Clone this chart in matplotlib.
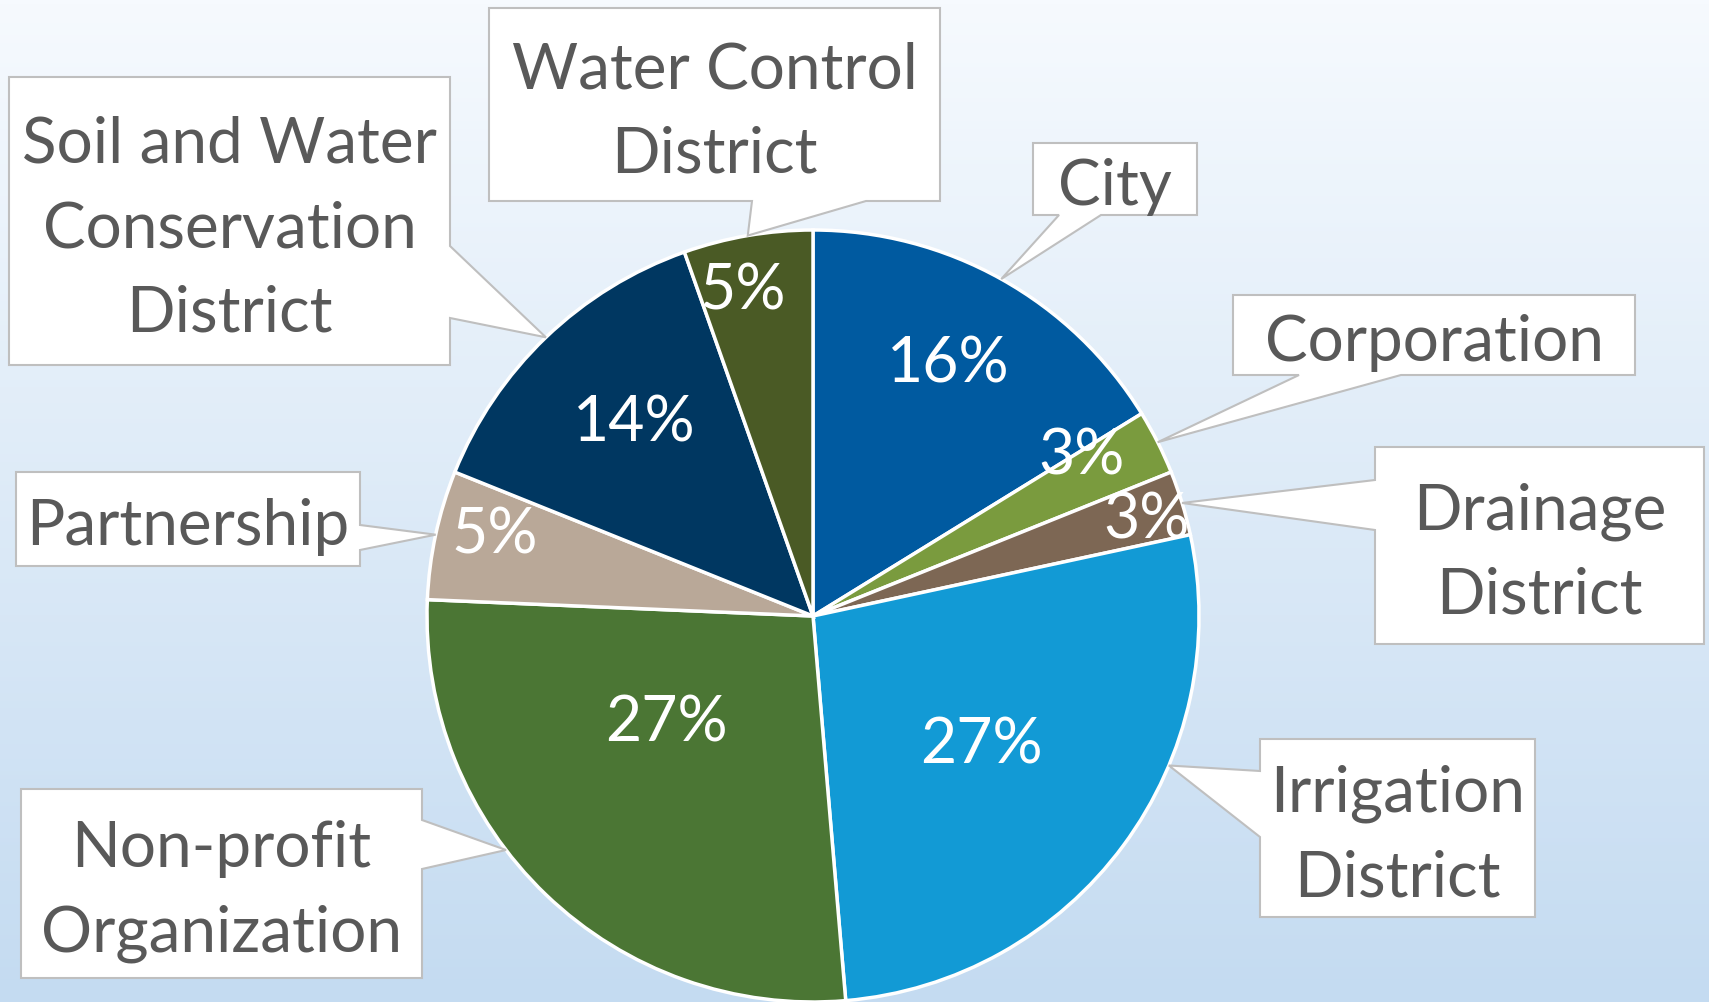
import numpy as np
import matplotlib
matplotlib.use("Agg")
import matplotlib.pyplot as plt
from matplotlib.patches import Polygon

# data: number of entities by type (shares, 37 total)
types = ["City", "Corporation", "Drainage\nDistrict", "Irrigation\nDistrict",
         "Non-profit\nOrganization", "Partnership",
         "Soil and Water\nConservation\nDistrict", "Water Control\nDistrict"]
counts = [6, 1, 1, 10, 10, 2, 5, 2]
colors = ["#005AA0", "#7A9B3E", "#7D6754", "#129AD5",
          "#4B7634", "#B9A898", "#003761", "#4A5A25"]

W, H = 1709, 1002
plt.rcParams['font.family'] = ['Lato', 'DejaVu Sans']

fig = plt.figure(figsize=(W / 100, H / 100), dpi=100)
ax = fig.add_axes([0, 0, 1, 1])

# background gradient
grad = np.linspace(0, 1, 256).reshape(-1, 1)
top = np.array([246, 250, 254]) / 255
bot = np.array([196, 219, 241]) / 255
img = top + (bot - top) * grad[:, :, None]
ax.imshow(img, extent=(0, W, 0, H), aspect='auto', zorder=0, origin='upper')

cx, cy, R = 813, H - 616, 386
wedges, _ = ax.pie(counts, colors=colors, startangle=90, counterclock=False,
                   center=(cx, cy), radius=R,
                   wedgeprops=dict(edgecolor='white', linewidth=2.5, zorder=2))

total = sum(counts)

# percent label placement: (radius fraction, angle offset deg)
pct_pos = [(0.74, 1), (0.81, 4), (0.90, -1), (0.55, -1),
           (0.47, -10), (0.85, -2), (0.68, -1), (0.86, 2.5)]
for w, c, (f, off) in zip(wedges, counts, pct_pos):
    mid = np.deg2rad((w.theta1 + w.theta2) / 2 + off)
    ax.text(cx + f * R * np.cos(mid), cy + f * R * np.sin(mid),
            f"{round(c / total * 100)}%", color='white', fontsize=45,
            ha='center', va='center', zorder=4)

# callout boxes (top-down pixel layout): box, pointer side, pointer base, leader angle offset
boxes = [
    ((1033, 143, 1197, 215), 'bottom', (1059, 1101), 0),
    ((1233, 295, 1635, 375), 'bottom', (1299, 1401), 0),
    ((1375, 447, 1704, 644), 'left', (480, 530), 0),
    ((1260, 739, 1535, 917), 'left', (771, 837), 13.7),
    ((21, 789, 422, 978), 'right', (820, 869), -8.9),
    ((16, 472, 360, 566), 'right', (525, 550), 0),
    ((9, 77, 450, 365), 'right', (246, 318), 0),
    ((489, 8, 940, 201), 'bottom', (752, 866), 0),
]

for w, label, (box, side, base, aoff) in zip(wedges, types, boxes):
    x0, y0, x1, y1 = box
    ang = np.deg2rad((w.theta1 + w.theta2) / 2 + aoff)
    tip = (cx + R * np.cos(ang), cy + R * np.sin(ang))
    # corners in y-up coords, clockwise from top-left
    tl, tr, br, bl = (x0, H - y0), (x1, H - y0), (x1, H - y1), (x0, H - y1)
    if side == 'bottom':
        pts = [tl, tr, br, (base[1], H - y1), tip, (base[0], H - y1), bl]
    elif side == 'left':
        pts = [tl, tr, br, bl, (x0, H - base[1]), tip, (x0, H - base[0])]
    else:
        pts = [tl, tr, (x1, H - base[0]), tip, (x1, H - base[1]), br, bl]
    ax.add_patch(Polygon(pts, closed=True, facecolor='white',
                         edgecolor='#BFBFBF', linewidth=1.5, zorder=3))
    ax.text((x0 + x1) / 2, H - (y0 + y1) / 2 - 8, label, color='#595959',
            fontsize=46, ha='center', va='center', linespacing=1.56, zorder=5)

ax.set_xlim(0, W)
ax.set_ylim(0, H)
ax.set_aspect('auto')
ax.axis('off')

fig.savefig("out.png", dpi=100)
